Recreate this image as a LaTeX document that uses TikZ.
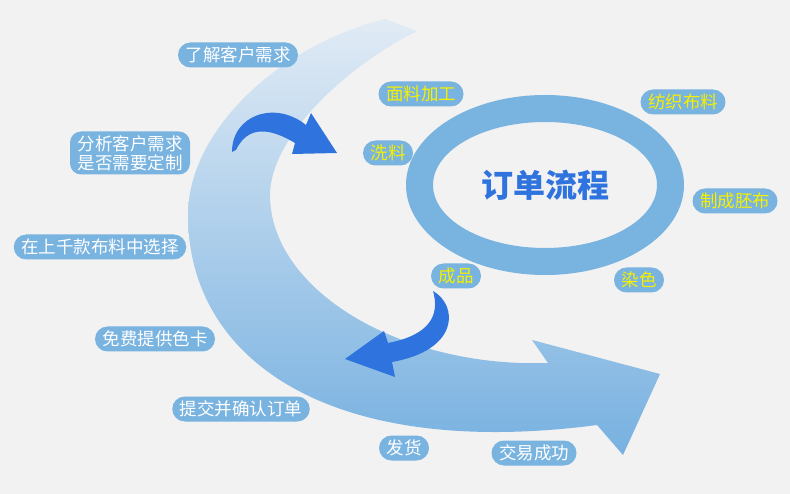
\documentclass[tikz,border=0pt]{standalone}
\usepackage{fontspec}
\newfontfamily\cjk{Noto Sans CJK SC}
\definecolor{bgc}{RGB}{242,242,242}
\definecolor{boxblue}{RGB}{121,179,224}
\definecolor{ringblue}{RGB}{121,179,224}
\definecolor{darkblue}{RGB}{46,115,222}
\definecolor{labyellow}{RGB}{246,240,0}
\definecolor{bandtop}{RGB}{225,235,245}
\definecolor{bandbot}{RGB}{118,176,224}
\tikzset{
  lbl/.style={fill=boxblue, rounded corners=12.5pt, minimum height=25pt, inner xsep=7.5pt, inner ysep=2pt, text=white, font=\cjk\fontsize{17.5}{19}\selectfont, align=center},
  rlbl/.style={lbl, text=labyellow},
  bluearrow/.style={fill=darkblue}
}
\begin{document}
\begin{tikzpicture}[x=1pt,y=-1pt]
\fill[bgc] (0,0) rectangle (790,494);
\useasboundingbox (0,0) rectangle (790,494);
% big curved arrow band
\shade[top color=bandtop, bottom color=bandbot]
  (385,19) .. controls (280,45) and (188,130) .. (188,215)
  .. controls (188,360) and (330,460) .. (597,425)
  -- (623,455) -- (660,374) -- (532,340) -- (548,363)
  .. controls (400,368) and (270,290) .. (270,195)
  .. controls (270,140) and (340,70) .. (417,31) -- cycle;
% ring
\fill[ringblue, even odd rule] (545,185) ellipse [x radius=139pt, y radius=90pt]
  (545,185) ellipse [x radius=112pt, y radius=63pt];
\node[text=darkblue, font=\cjk\bfseries\fontsize{32}{36}\selectfont] (title) at (545,185) {订单流程};
% dark blue arrows
\fill[bluearrow] (232,152) .. controls (232,115) and (275,100) .. (306,125)
  -- (311,113) -- (337,153) -- (292,154) -- (295,143)
  .. controls (270,128) and (248,125) .. (236,150) -- cycle;
\fill[bluearrow] (433,291) .. controls (458,305) and (460,350) .. (392,362)
  -- (395,377) -- (345,359) -- (384,331) -- (388,343)
  .. controls (430,335) and (440,315) .. (433,291) -- cycle;
% left labels
\node[lbl] (n1) at (238,55) {了解客户需求};
\node[lbl, minimum height=43pt, rounded corners=11pt] (n2) at (130,153) {分析客户需求\\是否需要定制};
\node[lbl] (n3) at (100,247) {在上千款布料中选择};
\node[lbl] (n4) at (155,339) {免费提供色卡};
\node[lbl] (n5) at (241,409) {提交并确认订单};
\node[lbl] (n6) at (404,448) {发货};
\node[lbl] (n7) at (534,453) {交易成功};
% ring labels
\node[rlbl] (r1) at (421,94) {面料加工};
\node[rlbl] (r2) at (683,102) {纺织布料};
\node[rlbl] (r3) at (388,153) {洗料};
\node[rlbl] (r4) at (735,201) {制成胚布};
\node[rlbl] (r5) at (456,276) {成品};
\node[rlbl] (r6) at (639,280) {染色};
\end{tikzpicture}
\end{document}
